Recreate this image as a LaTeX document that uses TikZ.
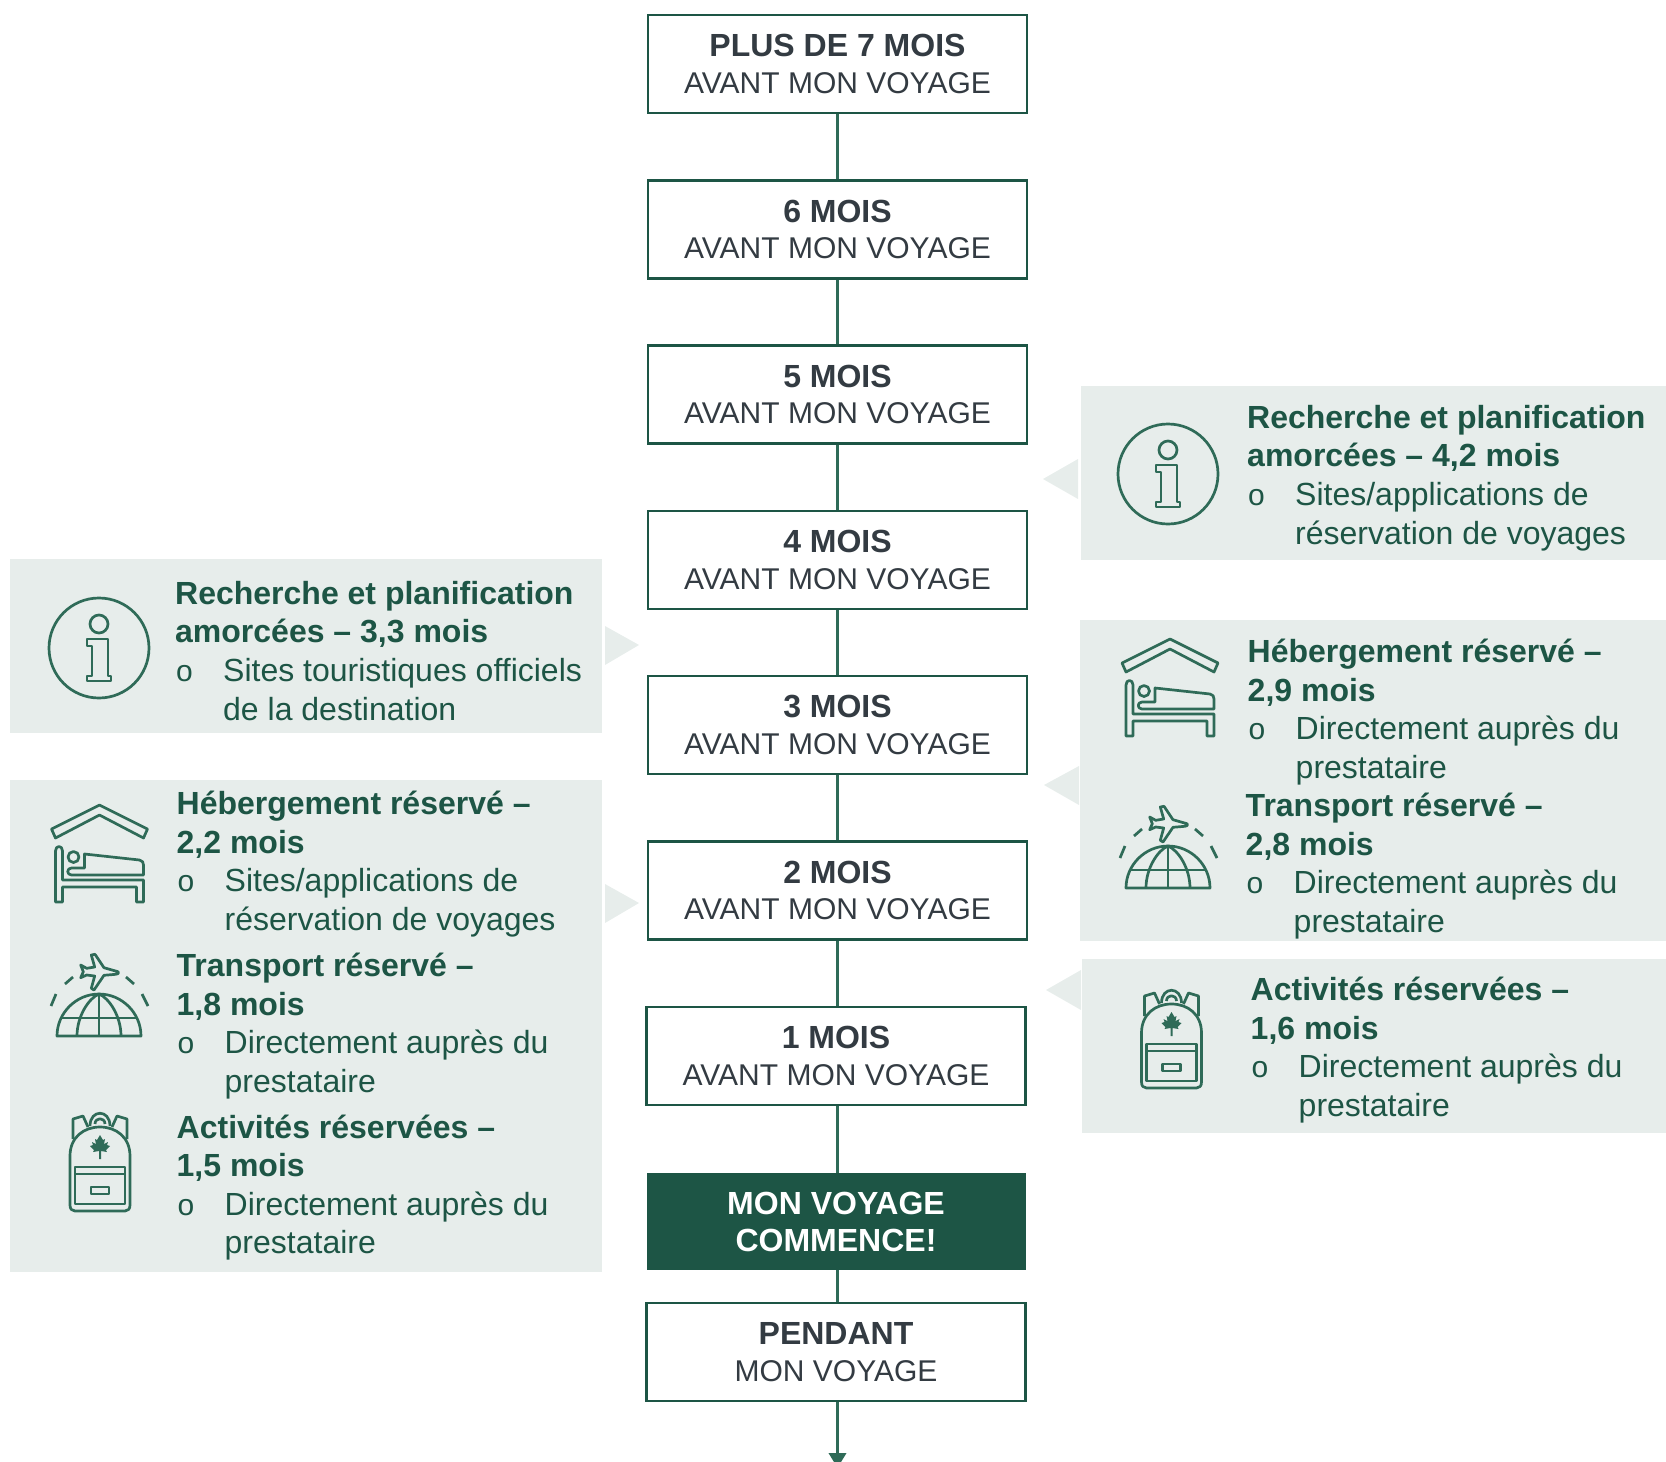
\documentclass[tikz,border=0pt]{standalone}
\usepackage{fontspec}
\setmainfont{Liberation Sans}
\usetikzlibrary{arrows.meta}

\definecolor{vertfonce}{HTML}{1D5545}
\definecolor{vertlien}{HTML}{2F6B58}
\definecolor{vertpale}{HTML}{E7EDEB}
\definecolor{encre}{HTML}{333B42}

\newcommand{\puce}{\makebox[48pt][l]{\hspace*{1pt}{\fontsize{30}{38.6}\selectfont o}}}
\newcommand{\retrait}{\hspace*{48pt}}
\newcommand{\gras}[1]{{\fontsize{32}{36.5}\selectfont\bfseries #1}}

\begin{document}
\begin{tikzpicture}[
	x=1pt,y=-1pt,
	infoicon/.pic={
		\draw[icone] (0,0) circle (50);
		\draw[icone] (0,-24) circle (9);
		\draw[icone] (-12,-9) -- (9,-9) -- (9,28) -- (12,28) -- (12,33) -- (-12,33) -- (-12,28) -- (-7,28) -- (-7,-2) -- (-12,-2) -- cycle;
	},
	beddicon/.pic={
		\draw[icone] (0,0) -- (48,24) -- (44,33) -- (0,10) -- (-44,33) -- (-48,24) -- cycle;
		\draw[icone] (-44,97) -- (-44,46) .. controls (-44,40) and (-37,40) .. (-37,46) -- (-37,75) -- (44,75) -- (44,97) -- (37,97) -- (37,82) -- (-37,82) -- (-37,97) -- cycle;
		\draw[icone] (-26,52) circle (5.5);
		\draw[icone] (-15,63) -- (-15,49) -- (40,55) .. controls (43,56) and (44,57) .. (44,60) -- (44,70) -- (-28,70) .. controls (-33,70) and (-33,63) .. (-28,63) -- cycle;
	},
	planeicon/.pic={
		\draw[icone] (-42,0) .. controls (-42,-23) and (-23,-42) .. (0,-42) .. controls (23,-42) and (42,-23) .. (42,0) -- cycle;
		\draw[icone] (0,0) -- (0,-42);
		\draw[icone] (-38,-18) -- (38,-18);
		\draw[icone] (-22,0) .. controls (-22,-20) and (-10,-38) .. (0,-42) .. controls (10,-38) and (22,-20) .. (22,0);
		\draw[icone] (-48,-30) -- (-43,-42);
		\draw[icone] (-34,-52) -- (-26,-59);
		\draw[icone] (27,-59) -- (35,-52);
		\draw[icone] (43,-42) -- (49,-30);
		\draw[icone] (19,-64.3) -- (5,-68.3) -- (-4,-81.7) -- (-7.7,-81) -- (-4.3,-69) -- (-12.3,-67.7) -- (-18.3,-71) -- (-15.7,-64.3) -- (-18.3,-58.3) -- (-12.3,-61) -- (-4.3,-60) -- (-7.7,-47.7) -- (-5,-46) -- (5,-60.7) -- (16.7,-61.7) .. controls (20,-62) and (20,-64) .. cycle;
	},
	sacicon/.pic={
		\draw[icone] (-27,-72) -- (-27,-92) -- (-17,-95) -- (-12,-84);
		\draw[icone] (27,-72) -- (27,-92) -- (17,-95) -- (12,-84);
		\draw[icone] (-10,-85) .. controls (-10,-102) and (10,-102) .. (10,-85);
		\draw[icone] (-5,-87) .. controls (-5,-94) and (5,-94) .. (5,-87);
		\draw[icone] (-25,0) .. controls (-28,0) and (-30,-2) .. (-30,-6) -- (-30,-55) .. controls (-30,-74) and (-16,-84) .. (0,-84) .. controls (16,-84) and (30,-74) .. (30,-55) -- (30,-6) .. controls (30,-2) and (28,0) .. (25,0) -- cycle;
		\draw[icone] (-25,-44) -- (25,-44) -- (25,-7) -- (-25,-7) -- cycle;
		\draw[icone] (-25,-37) -- (25,-37);
		\draw[icone] (-9,-24) -- (9,-24) -- (9,-17) -- (-9,-17) -- cycle;
		\fill[vertlien,shift={(0,-65)}] (0,-11) -- (3,-6) -- (5,-7) -- (4,-2) -- (8,-4) -- (7,-1) -- (10,0) -- (6,4) -- (7,6) -- (1,5) -- (1,13) -- (-1,13) -- (-1,5) -- (-7,6) -- (-6,4) -- (-10,0) -- (-7,-1) -- (-8,-4) -- (-4,-2) -- (-5,-7) -- (-3,-6) -- cycle;
	}]
	\tikzstyle{icone} = [draw=vertlien,line width=2.7pt,line join=round]
	\tikzstyle{etape} = [draw=vertfonce,line width=2.5pt,fill=white,text=encre,align=center,minimum width=379pt,minimum height=98pt,inner sep=0pt,font=\fontsize{30}{36.5}\selectfont]
	\tikzstyle{depart} = [fill=vertfonce,text=white,align=center,minimum width=379pt,minimum height=97pt,inner sep=0pt,font=\fontsize{32}{37}\selectfont\bfseries]
	\tikzstyle{panneau} = [fill=vertpale,anchor=north west,inner sep=0pt]
	\tikzstyle{pointe} = [fill=vertpale]
	\tikzstyle{bloc} = [text=vertfonce,anchor=north west,align=left,inner sep=0pt,font=\fontsize{32}{38.6}\selectfont,execute at begin node=\strut]
	\tikzstyle{lien} = [draw=vertlien,line width=3.5pt]
	\useasboundingbox (0,0) rectangle (1666,1462);

	\node[etape] (m7) at (837.5,64) {\gras{PLUS DE 7 MOIS}\\AVANT MON VOYAGE};
	\node[etape] (m6) at (837.5,229.5) {\gras{6 MOIS}\\AVANT MON VOYAGE};
	\node[etape] (m5) at (837.5,394.5) {\gras{5 MOIS}\\AVANT MON VOYAGE};
	\node[etape] (m4) at (837.5,560) {\gras{4 MOIS}\\AVANT MON VOYAGE};
	\node[etape] (m3) at (837.5,725) {\gras{3 MOIS}\\AVANT MON VOYAGE};
	\node[etape] (m2) at (837.5,890.5) {\gras{2 MOIS}\\AVANT MON VOYAGE};
	\node[etape] (m1) at (836,1056) {\gras{1 MOIS}\\AVANT MON VOYAGE};
	\node[depart] (debut) at (836,1221.5) {MON VOYAGE\\COMMENCE!};
	\node[etape] (pendant) at (836,1352) {\gras{PENDANT}\\MON VOYAGE};
	\coordinate (fin) at (837.5,1468);

	\draw[lien] (m7) -- (m6);
	\draw[lien] (m6) -- (m5);
	\draw[lien] (m5) -- (m4);
	\draw[lien] (m4) -- (m3);
	\draw[lien] (m3) -- (m2);
	\draw[lien] (m2) -- (m2 |- m1.north);
	\draw[lien] (m2 |- m1.south) -- (m2 |- debut.north);
	\draw[lien] (m2 |- debut.south) -- (m2 |- pendant.north);
	\draw[lien,-{Triangle[length=15pt,width=17pt]}] (m2 |- pendant.south) -- (fin);

	% panneaux de gauche
	\node[panneau,minimum width=592pt,minimum height=174pt] (g1) at (10,559) {};
	\node[panneau,minimum width=592pt,minimum height=492pt] (g2) at (10,780) {};
	\fill[pointe] (605,626) -- (639,645) -- (605,665) -- cycle;
	\fill[pointe] (605,884) -- (639,903) -- (605,923) -- cycle;

	\pic at (99,648) {infoicon};
	\pic at (99.5,805) {beddicon};
	\pic at (99,1036) {planeicon};
	\pic at (100,1211) {sacicon};

	\node[bloc] (g1t) at (175,581) {\textbf{Recherche et planification}\\\textbf{amorcées – 3,3 mois}\\\puce Sites touristiques officiels\\\retrait de la destination};
	\node[bloc] (g2a) at (176.5,791) {\textbf{Hébergement réservé –}\\\textbf{2,2 mois}\\\puce Sites/applications de\\\retrait réservation de voyages};
	\node[bloc] (g2b) at (176.5,953) {\textbf{Transport réservé –}\\\textbf{1,8 mois}\\\puce Directement auprès du\\\retrait prestataire};
	\node[bloc] (g2c) at (176.5,1114.5) {\textbf{Activités réservées –}\\\textbf{1,5 mois}\\\puce Directement auprès du\\\retrait prestataire};

	% panneaux de droite
	\node[panneau,minimum width=586pt,minimum height=174pt] (d1) at (1081,386) {};
	\node[panneau,minimum width=586pt,minimum height=321pt] (d2) at (1080,620) {};
	\node[panneau,minimum width=584pt,minimum height=174pt] (d3) at (1082,959) {};
	\fill[pointe] (1078,459) -- (1043,479) -- (1078,499) -- cycle;
	\fill[pointe] (1079,766) -- (1044,785) -- (1079,805) -- cycle;
	\fill[pointe] (1081,970) -- (1046,990) -- (1081,1010) -- cycle;

	\pic at (1168,474) {infoicon};
	\pic at (1170,639) {beddicon};
	\pic at (1168,888) {planeicon};
	\pic at (1171.5,1088) {sacicon};

	\node[bloc] (d1t) at (1247,405) {\textbf{Recherche et planification}\\\textbf{amorcées – 4,2 mois}\\\puce Sites/applications de\\\retrait réservation de voyages};
	\node[bloc] (d2a) at (1247.5,639) {\textbf{Hébergement réservé –}\\\textbf{2,9 mois}\\\puce Directement auprès du\\\retrait prestataire};
	\node[bloc] (d2b) at (1245.5,793) {\textbf{Transport réservé –}\\\textbf{2,8 mois}\\\puce Directement auprès du\\\retrait prestataire};
	\node[bloc] (d3t) at (1250.5,977) {\textbf{Activités réservées –}\\\textbf{1,6 mois}\\\puce Directement auprès du\\\retrait prestataire};
\end{tikzpicture}
\end{document}
